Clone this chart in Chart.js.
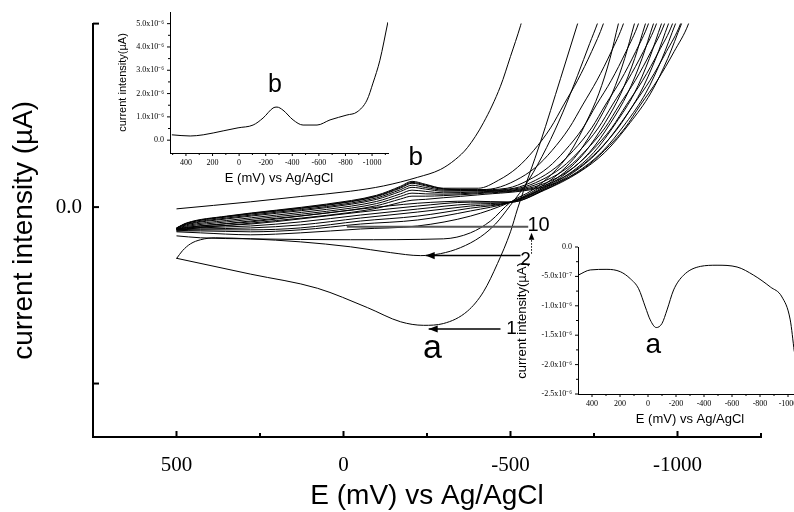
<!DOCTYPE html>
<html>
<head>
<meta charset="utf-8">
<script src="https://cdn.jsdelivr.net/npm/chart.js@4.4.1/dist/chart.umd.min.js"></script>
<style>
  html, body { margin: 0; padding: 0; background: #fff; overflow: hidden; }
  #wrap { position: relative; width: 794px; height: 512px; overflow: hidden; }
  canvas { position: absolute; }
  #main { left: 0; top: 0; }
  #insetB { left: 100px; top: 0; }
  #insetA { left: 505px; top: 235px; }
</style>
</head>
<body>
<div id="wrap">
  <canvas id="main" width="794" height="512"></canvas>
  <canvas id="insetB" width="300" height="190"></canvas>
  <canvas id="insetA" width="310" height="195"></canvas>
</div>
<script>
// ---- main voltammogram: [E (mV), I (µA)] ----
const scan1Cathodic = [[500,-0.29],[278,-0.38],[78,-0.46],[-72,-0.57],[-171,-0.65],[-240,-0.67],[-299,-0.66],[-371,-0.59],[-419,-0.48],[-461,-0.32],[-500,-0.14],[-521,-0.01],[-590,0.37],[-650,0.73],[-701,1.04],[-760,1.40]];
const scan1Anodic = [[500,-0.01],[278,0.03],[129,0.06],[-21,0.09],[-120,0.12],[-222,0.169],[-290,0.213],[-335,0.270],[-371,0.337],[-419,0.478],[-470,0.685],[-500,0.854],[-530,1.028],[-548,1.152]];

const cathodic2 = [[500,-0.292],[482,-0.247],[458,-0.208],[428,-0.185],[383,-0.174],[278,-0.180],[129,-0.197],[-21,-0.225],[-141,-0.258],[-231,-0.275],[-290,-0.264],[-350,-0.230],[-410,-0.169],[-455,-0.096],[-500,0.011],[-554,0.152],[-608,0.337],[-656,0.534],[-701,0.747],[-737,0.927],[-760,1.039],[-790,1.208]];
const cathodic3 = [[500,-0.163],[428,-0.174],[278,-0.180],[-21,-0.185],[-299,-0.180],[-380,-0.146],[-440,-0.079],[-500,0.028],[-565,0.096],[-629,0.197],[-678,0.309],[-726,0.478],[-765,0.646],[-798,0.843],[-823,1.039],[-856,1.264]];
const cathodic4 = [[500,-0.140],[428,-0.146],[278,-0.157],[129,-0.146],[-51,-0.124],[-222,-0.107],[-380,-0.051],[-500,0.028],[-574,0.096],[-649,0.197],[-704,0.309],[-760,0.478],[-805,0.646],[-842,0.843],[-871,1.039],[-908,1.264]];
const cathodic5 = [[500,-0.135],[428,-0.135],[278,-0.140],[129,-0.129],[-51,-0.096],[-222,-0.073],[-380,-0.022],[-500,0.028],[-581,0.096],[-662,0.197],[-722,0.309],[-783,0.478],[-831,0.646],[-872,0.843],[-904,1.039],[-945,1.264]];
const cathodic6 = [[500,-0.135],[428,-0.129],[278,-0.129],[129,-0.118],[-51,-0.079],[-222,-0.051],[-380,-0.006],[-500,0.028],[-586,0.096],[-671,0.197],[-736,0.309],[-800,0.478],[-851,0.646],[-894,0.843],[-928,1.039],[-971,1.264]];
const cathodic7 = [[500,-0.129],[428,-0.124],[278,-0.118],[129,-0.101],[-51,-0.062],[-222,-0.028],[-380,0.006],[-500,0.028],[-590,0.096],[-681,0.197],[-749,0.309],[-816,0.478],[-871,0.646],[-916,0.843],[-952,1.039],[-997,1.264]];
const cathodic8 = [[500,-0.129],[428,-0.118],[278,-0.107],[129,-0.084],[-51,-0.045],[-222,-0.011],[-380,0.017],[-500,0.028],[-595,0.096],[-689,0.197],[-760,0.309],[-831,0.478],[-888,0.646],[-935,0.843],[-973,1.039],[-1020,1.264]];
const cathodic9 = [[500,-0.124],[428,-0.112],[278,-0.096],[129,-0.067],[-51,-0.028],[-222,0.006],[-380,0.028],[-500,0.028],[-599,0.096],[-698,0.197],[-772,0.309],[-846,0.478],[-905,0.646],[-954,0.843],[-994,1.039],[-1043,1.264]];
const cathodic10 = [[500,-0.124],[428,-0.107],[278,-0.084],[129,-0.051],[-51,-0.011],[-222,0.022],[-380,0.034],[-500,0.028],[-602,0.096],[-705,0.197],[-782,0.309],[-858,0.478],[-920,0.646],[-971,0.843],[-1012,1.039],[-1063,1.264]];

const anodic2 = [[500,-0.118],[470,-0.090],[350,-0.051],[200,-0.017],[51,0.017],[-99,0.067],[-171,0.118],[-205,0.146],[-246,0.129],[-299,0.107],[-404,0.107],[-464,0.152],[-521,0.225],[-569,0.320],[-620,0.449],[-659,0.579],[-701,0.719],[-743,0.882],[-778,1.039],[-805,1.208]];
const anodic3 = [[500,-0.119],[470,-0.092],[350,-0.053],[200,-0.020],[51,0.013],[-99,0.063],[-171,0.113],[-205,0.140],[-246,0.125],[-299,0.104],[-401,0.099],[-455,0.107],[-516,0.152],[-575,0.225],[-624,0.320],[-676,0.449],[-716,0.579],[-759,0.719],[-802,0.882],[-838,1.039],[-865,1.208]];
const anodic4 = [[500,-0.119],[470,-0.093],[350,-0.056],[200,-0.023],[51,0.010],[-99,0.060],[-171,0.108],[-205,0.135],[-246,0.120],[-299,0.101],[-401,0.098],[-490,0.107],[-553,0.152],[-613,0.225],[-663,0.320],[-717,0.449],[-757,0.579],[-802,0.719],[-846,0.882],[-883,1.039],[-910,1.208]];
const anodic5 = [[500,-0.120],[470,-0.097],[350,-0.062],[200,-0.029],[51,0.003],[-99,0.052],[-171,0.099],[-205,0.124],[-246,0.111],[-299,0.096],[-401,0.094],[-511,0.107],[-575,0.152],[-636,0.225],[-688,0.320],[-743,0.449],[-784,0.579],[-830,0.719],[-875,0.882],[-913,1.039],[-940,1.208]];
const anodic6 = [[500,-0.121],[470,-0.100],[350,-0.067],[200,-0.035],[51,-0.003],[-99,0.044],[-171,0.089],[-205,0.112],[-246,0.102],[-299,0.090],[-401,0.091],[-525,0.107],[-591,0.152],[-654,0.225],[-707,0.320],[-763,0.449],[-805,0.579],[-851,0.719],[-898,0.882],[-937,1.039],[-964,1.208]];
const anodic7 = [[500,-0.123],[470,-0.105],[350,-0.076],[200,-0.045],[51,-0.013],[-99,0.032],[-171,0.075],[-205,0.096],[-246,0.089],[-299,0.081],[-401,0.086],[-540,0.107],[-607,0.152],[-672,0.225],[-725,0.320],[-783,0.449],[-826,0.579],[-874,0.719],[-921,0.882],[-961,1.039],[-988,1.208]];
const anodic8 = [[500,-0.125],[470,-0.110],[350,-0.084],[200,-0.054],[51,-0.024],[-99,0.020],[-171,0.061],[-205,0.079],[-246,0.075],[-299,0.073],[-401,0.081],[-555,0.107],[-624,0.152],[-689,0.225],[-744,0.320],[-803,0.449],[-847,0.579],[-896,0.719],[-944,0.882],[-985,1.039],[-1012,1.208]];
const anodic9 = [[500,-0.126],[470,-0.115],[350,-0.093],[200,-0.063],[51,-0.034],[-99,0.008],[-171,0.046],[-205,0.062],[-246,0.062],[-299,0.065],[-401,0.076],[-569,0.107],[-640,0.152],[-706,0.225],[-763,0.320],[-822,0.449],[-868,0.579],[-918,0.719],[-967,0.882],[-1009,1.039],[-1036,1.208]];
const anodic10 = [[500,-0.129],[470,-0.122],[350,-0.104],[200,-0.076],[51,-0.047],[-99,-0.007],[-171,0.027],[-205,0.039],[-246,0.044],[-299,0.053],[-401,0.069],[-584,0.107],[-656,0.152],[-724,0.225],[-781,0.320],[-843,0.449],[-889,0.579],[-940,0.719],[-990,0.882],[-1033,1.039],[-1060,1.208]];

const mainCurves = [scan1Cathodic, scan1Anodic,
  cathodic2, cathodic3, cathodic4, cathodic5, cathodic6, cathodic7, cathodic8, cathodic9, cathodic10,
  anodic2, anodic3, anodic4, anodic5, anodic6, anodic7, anodic8, anodic9, anodic10];

const mainXLabels = [500, 0, -500, -1000];
const mainXMinor = [250, -250, -750, -1250];
const mainYLabels = [0];
const mainYMarks = [1.04, 0, -1];

// ---- inset b: anodic difference curve [E (mV), I (A)] ----
const insetBCurve = [[506,0.23e-6],[368,0.18e-6],[270,0.23e-6],[120,0.40e-6],[8,0.53e-6],[-105,0.65e-6],[-180,0.95e-6],[-255,1.38e-6],[-285,1.42e-6],[-330,1.29e-6],[-406,0.87e-6],[-481,0.65e-6],[-586,0.65e-6],[-684,0.87e-6],[-811,1.08e-6],[-887,1.21e-6],[-962,1.72e-6],[-1007,2.45e-6],[-1059,3.43e-6],[-1119,5.06e-6]];
const insetBXLabels = [400, 200, 0, -200, -400, -600, -800, -1000];
const insetBXMinor = [500, 300, 100, -100, -300, -500, -700, -900, -1100];
const insetBYLabels = [0, 1e-6, 2e-6, 3e-6, 4e-6, 5e-6];
const insetBYMinor = [0.5e-6, 1.5e-6, 2.5e-6, 3.5e-6, 4.5e-6];

// ---- inset a: cathodic difference curve [E (mV), I (A)] ----
const insetACurve = [[500,-0.48e-6],[412,-0.39e-6],[293,-0.38e-6],[198,-0.42e-6],[126,-0.54e-6],[67,-0.71e-6],[19,-1.02e-6],[-16,-1.24e-6],[-59,-1.37e-6],[-100,-1.30e-6],[-136,-1.07e-6],[-183,-0.73e-6],[-254,-0.48e-6],[-374,-0.33e-6],[-493,-0.31e-6],[-636,-0.34e-6],[-755,-0.48e-6],[-874,-0.68e-6],[-957,-0.85e-6],[-1016,-1.24e-6],[-1045,-1.78e-6]];
const insetAXLabels = [400, 200, 0, -200, -400, -600, -800, -1000];
const insetAXMinor = [300, 100, -100, -300, -500, -700, -900];
const insetAYLabels = [0, -0.5e-6, -1e-6, -1.5e-6, -2e-6, -2.5e-6];
const insetAYMinor = [-0.25e-6, -0.75e-6, -1.25e-6, -1.75e-6, -2.25e-6];

const SANS = 'Liberation Sans, Arial, sans-serif';
const SERIF = 'Liberation Serif, Times New Roman, serif';

// tick marks drawn by hand so majors/minors can differ and point in or out
const tickMarks = {
  id: 'tickMarks',
  afterDraw(chart, args, o) {
    const { ctx, chartArea: a, scales } = chart;
    const dir = o.inward ? 1 : -1;
    ctx.save();
    ctx.strokeStyle = '#000';
    ctx.lineWidth = o.lineWidth;
    const draw = (id, values, len) => {
      const s = scales[id];
      values.forEach(v => {
        const p = s.getPixelForValue(v);
        ctx.beginPath();
        if (id === 'x') {
          ctx.moveTo(p, a.bottom);
          ctx.lineTo(p, a.bottom - dir * len);
        } else {
          ctx.moveTo(a.left, p);
          ctx.lineTo(a.left + dir * len, p);
        }
        ctx.stroke();
      });
    };
    draw('x', o.xMajor, o.majorLen);
    draw('x', o.xMinor, o.minorLen);
    draw('y', o.yMajor, o.majorLen);
    draw('y', o.yMinor, o.minorLen);
    ctx.restore();
  }
};

// arrows and letters placed in data coordinates
const notes = {
  id: 'notes',
  afterDatasetsDraw(chart, args, o) {
    const { ctx, scales: { x, y } } = chart;
    const at = p => [x.getPixelForValue(p[0]), y.getPixelForValue(p[1])];
    ctx.save();
    (o.arrows || []).forEach(a => {
      const [x1, y1] = at(a.from);
      const [x2, y2] = at(a.to);
      ctx.strokeStyle = a.color;
      ctx.fillStyle = a.color;
      ctx.lineWidth = a.width;
      ctx.setLineDash(a.dash || []);
      ctx.beginPath();
      ctx.moveTo(x1, y1);
      ctx.lineTo(x2, y2);
      ctx.stroke();
      ctx.setLineDash([]);
      if (a.head) {
        const ang = Math.atan2(y2 - y1, x2 - x1);
        const L = a.head, W = a.head * 0.4;
        ctx.beginPath();
        ctx.moveTo(x2, y2);
        ctx.lineTo(x2 - L * Math.cos(ang) + W * Math.sin(ang), y2 - L * Math.sin(ang) - W * Math.cos(ang));
        ctx.lineTo(x2 - L * Math.cos(ang) - W * Math.sin(ang), y2 - L * Math.sin(ang) + W * Math.cos(ang));
        ctx.closePath();
        ctx.fill();
      }
    });
    (o.labels || []).forEach(l => {
      const [px, py] = at(l.at);
      ctx.font = l.font;
      ctx.fillStyle = '#000';
      ctx.textAlign = 'center';
      ctx.textBaseline = 'middle';
      ctx.fillText(l.text, px, py);
    });
    ctx.restore();
  }
};

function lineSet(curve) {
  return {
    data: curve.map(([e, i]) => ({ x: e, y: i })),
    borderColor: '#000',
    borderWidth: 1,
    pointRadius: 0,
    fill: false,
    cubicInterpolationMode: 'monotone'
  };
}

function sciLabel(v) {
  if (v === 0) return '0.0';
  if (Math.abs(v) < 1e-6) return (v * 1e7).toFixed(1) + 'x10\u207B\u2077';
  return (v * 1e6).toFixed(1) + 'x10\u207B\u2076';
}

function makeChart(id, cfg) {
  return new Chart(document.getElementById(id), {
    type: 'line',
    data: { datasets: cfg.curves.map(lineSet) },
    plugins: [tickMarks, notes],
    options: {
      responsive: false,
      animation: false,
      devicePixelRatio: 1,
      events: [],
      layout: { padding: cfg.padding },
      plugins: {
        legend: { display: false },
        tooltip: { enabled: false },
        tickMarks: cfg.marks,
        notes: cfg.notes || {}
      },
      scales: {
        x: {
          type: 'linear',
          reverse: true,
          min: cfg.x.min,
          max: cfg.x.max,
          grid: { display: false, drawTicks: false },
          border: { display: true, color: '#000', width: cfg.axisWidth },
          afterBuildTicks: s => { s.ticks = cfg.x.labels.map(v => ({ value: v })); },
          afterFit: s => { s.height = cfg.x.height; },
          ticks: {
            autoSkip: false, maxRotation: 0, padding: cfg.x.pad, color: '#000',
            font: { family: SERIF, size: cfg.x.tickSize },
            callback: v => String(v)
          },
          title: {
            display: true, text: 'E (mV) vs Ag/AgCl', color: '#000',
            font: { family: SANS, size: cfg.x.titleSize, lineHeight: 1 },
            padding: { top: 0, bottom: cfg.x.titlePad }
          }
        },
        y: {
          type: 'linear',
          min: cfg.y.min,
          max: cfg.y.max,
          grid: { display: false, drawTicks: false },
          border: { display: true, color: '#000', width: cfg.axisWidth },
          afterBuildTicks: s => { s.ticks = cfg.y.labels.map(v => ({ value: v })); },
          afterFit: s => { s.width = cfg.y.width; },
          ticks: {
            autoSkip: false, padding: cfg.y.pad, color: '#000',
            font: { family: SERIF, size: cfg.y.tickSize },
            callback: cfg.y.format
          },
          title: {
            display: true, text: cfg.y.title, color: '#000',
            font: { family: SANS, size: cfg.y.titleSize },
            padding: { top: cfg.y.titlePad, bottom: 0 }
          }
        }
      }
    }
  });
}

makeChart('main', {
  curves: mainCurves,
  padding: { top: 20, right: 33, left: 0, bottom: 0 },
  axisWidth: 2,
  x: { min: -1250, max: 750, labels: mainXLabels, height: 75, pad: 16, tickSize: 21, titleSize: 28, titlePad: 2 },
  y: { min: -1.303, max: 1.04, labels: mainYLabels, width: 93, pad: 11, tickSize: 21,
       format: v => (v === 0 ? '0.0' : ''), title: 'current intensity (\u00B5A)', titleSize: 28, titlePad: 7 },
  marks: { inward: true, lineWidth: 2, majorLen: 6, minorLen: 4,
           xMajor: mainXLabels, xMinor: mainXMinor, yMajor: mainYMarks, yMinor: [] },
  notes: {
    arrows: [
      { from: [-470, -0.691], to: [-255, -0.691], color: '#000', width: 1.5, head: 9 },
      { from: [-530, -0.275], to: [-246, -0.275], color: '#000', width: 1.5, head: 9 },
      { from: [-553, -0.112], to: [-10, -0.112], color: '#555', width: 2 },
      { from: [-563, -0.264], to: [-563, -0.146], color: '#000', width: 1, dash: [1.5, 1.5], head: 7 }
    ],
    labels: [
      { text: '1', at: [-503, -0.691], font: '19px ' + SANS },
      { text: '2', at: [-545, -0.300], font: '19px ' + SANS },
      { text: '10', at: [-584, -0.107], font: '20px ' + SANS },
      { text: 'a', at: [-266, -0.800], font: '34px ' + SANS },
      { text: 'b', at: [-216, 0.280], font: '26px ' + SANS }
    ]
  }
});

makeChart('insetB', {
  curves: [insetBCurve],
  padding: { top: 12, right: 12, left: 0, bottom: 0 },
  axisWidth: 1,
  x: { min: -1120, max: 520, labels: insetBXLabels, height: 37, pad: 5, tickSize: 8, titleSize: 13, titlePad: 5 },
  y: { min: -0.55e-6, max: 5.5e-6, labels: insetBYLabels, width: 70, pad: 6, tickSize: 8,
       format: sciLabel, title: 'current intensity(\u00B5A)', titleSize: 11, titlePad: 16 },
  marks: { inward: false, lineWidth: 1, majorLen: 3, minorLen: 2,
           xMajor: insetBXLabels, xMinor: insetBXMinor, yMajor: insetBYLabels, yMinor: insetBYMinor },
  notes: { labels: [{ text: 'b', at: [-270, 2.36e-6], font: '25px ' + SANS }] }
});

makeChart('insetA', {
  curves: [insetACurve],
  padding: { top: 12, right: 13, left: 0, bottom: 0 },
  axisWidth: 1,
  x: { min: -1100, max: 500, labels: insetAXLabels, height: 36, pad: 5, tickSize: 8, titleSize: 13, titlePad: 4 },
  y: { min: -2.5e-6, max: 0, labels: insetAYLabels, width: 73, pad: 6, tickSize: 8,
       format: sciLabel, title: 'current intensity(\u00B5A)', titleSize: 13, titlePad: 10 },
  marks: { inward: false, lineWidth: 1, majorLen: 3, minorLen: 2,
           xMajor: insetAXLabels, xMinor: insetAXMinor, yMajor: insetAYLabels, yMinor: insetAYMinor },
  notes: { labels: [{ text: 'a', at: [-38, -1.67e-6], font: '28px ' + SANS }] }
});
</script>
</body>
</html>
